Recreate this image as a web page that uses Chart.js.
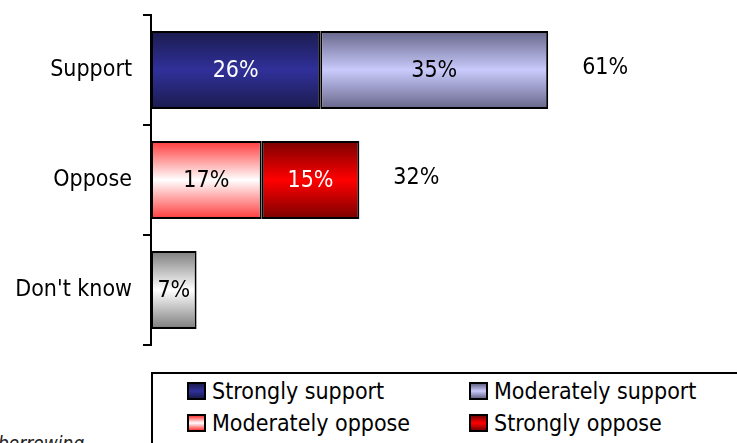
<!DOCTYPE html>
<html>
<head>
<meta charset="utf-8">
<script src="https://cdn.jsdelivr.net/npm/chart.js@4.4.1/dist/chart.umd.min.js"></script>
<style>
  html, body { margin: 0; padding: 0; background: #fff; }
  body { width: 737px; height: 443px; position: relative; overflow: hidden; font-family: 'DejaVu Sans Condensed', 'Liberation Sans', sans-serif; }
  #wrap { position: absolute; left: 0; top: 0; width: 737px; height: 360px; }
  #legend { position: absolute; left: 151px; top: 372px; width: 620px; height: 90px; border: 2px solid #000; box-sizing: border-box; }
  .item { position: absolute; font-size: 23px; color: #000; line-height: 26px; white-space: nowrap; }
  .sw { display: inline-block; width: 15px; height: 14px; border: 2px solid #000; vertical-align: -1px; margin-right: 6px; }
  #note { position: absolute; left: -2px; top: 432px; font-size: 19px; font-style: italic; color: #222; }
</style>
</head>
<body>
<div id="wrap"><canvas id="chart"></canvas></div>
<div id="legend"></div>
<div id="note">borrowing</div>
<script>
const categories = ['Support', 'Oppose', "Don't know"];
const stronglySupport   = [26, null, null];
const moderatelySupport = [35, null, null];
const moderatelyOppose  = [null, 17, null];
const stronglyOppose    = [null, 15, null];
const dontKnow          = [null, null, 7];
const totals            = ['61%', '32%', null];

const FONT = '"DejaVu Sans Condensed", "Liberation Sans", sans-serif';

// [edge, centre] colours of each vertical gradient
const SHADES = {
  ss: ['#1b1b4e', '#30309a'],
  ms: ['#66668a', '#cacafc'],
  mo: ['#ff3a3a', '#ffffff'],
  so: ['#7a0000', '#ff0000'],
  dk: ['#7c7c7c', '#ffffff'],
};

function grad(key) {
  const [edge, mid] = SHADES[key];
  return c => {
    const chart = c.chart;
    const y = chart.scales && chart.scales.y;
    if (!chart.chartArea || !y) return mid;
    const yc = y.getPixelForValue(c.dataIndex);
    const h = 39;
    const g = chart.ctx.createLinearGradient(0, yc - h, 0, yc + h);
    g.addColorStop(0, edge);
    g.addColorStop(0.5, mid);
    g.addColorStop(1, edge);
    return g;
  };
}

const datasets = [
  { label: 'Strongly support',   data: stronglySupport,   key: 'ss', txt: '#fff' },
  { label: 'Moderately support', data: moderatelySupport, key: 'ms', txt: '#000' },
  { label: 'Moderately oppose',  data: moderatelyOppose,  key: 'mo', txt: '#000' },
  { label: 'Strongly oppose',    data: stronglyOppose,    key: 'so', txt: '#fff' },
  { label: "Don't know",         data: dontKnow,          key: 'dk', txt: '#000', noLegend: true },
].map(d => ({
  ...d,
  backgroundColor: grad(d.key),
  borderColor: '#000',
  borderWidth: 2,
  borderSkipped: false,
  categoryPercentage: 1,
  barPercentage: 0.71,
}));

const labelPlugin = {
  id: 'labels',
  afterDatasetsDraw(chart) {
    const ctx = chart.ctx;
    ctx.save();
    ctx.font = '23px ' + FONT;
    ctx.textBaseline = 'middle';
    chart.data.datasets.forEach((ds, i) => {
      chart.getDatasetMeta(i).data.forEach((bar, j) => {
        if (ds.data[j] == null) return;
        ctx.fillStyle = ds.txt;
        ctx.textAlign = 'center';
        ctx.fillText(ds.data[j] + '%', (bar.x + bar.base) / 2, bar.y + 1);
      });
    });
    const x = chart.scales.x, y = chart.scales.y;
    ctx.fillStyle = '#000';
    ctx.textAlign = 'left';
    totals.forEach((t, j) => {
      if (!t) return;
      const sum = chart.data.datasets.reduce((s, ds) => s + (ds.data[j] || 0), 0);
      ctx.fillText(t, x.getPixelForValue(sum) + 34, y.getPixelForValue(j) - 2);
    });
    ctx.restore();
  }
};

new Chart(document.getElementById('chart'), {
  type: 'bar',
  data: { labels: categories, datasets },
  options: {
    indexAxis: 'y',
    responsive: true,
    maintainAspectRatio: false,
    animation: false,
    layout: { padding: { top: 15, right: 0, bottom: 15, left: 0 } },
    plugins: { legend: { display: false }, tooltip: { enabled: false } },
    scales: {
      x: { stacked: true, min: 0, max: 90, display: false },
      y: {
        stacked: true,
        afterFit: s => { s.width = 151; s.paddingTop = 0; s.paddingBottom = 0; },
        border: { display: true, color: '#000', width: 2 },
        grid: { offset: true, drawOnChartArea: false, drawTicks: true, tickLength: 8, color: '#000', lineWidth: 2 },
        ticks: { color: '#000', padding: 11, font: { family: FONT, size: 23 } },
      },
    },
  },
  plugins: [labelPlugin],
});

// legend box below the chart
const legendEl = document.getElementById('legend');
const pos = [[34, 4], [316, 4], [34, 36], [316, 36]];
datasets.filter(d => !d.noLegend).forEach((d, i) => {
  const [edge, mid] = SHADES[d.key];
  const el = document.createElement('div');
  el.className = 'item';
  el.style.left = pos[i][0] + 'px';
  el.style.top = pos[i][1] + 'px';
  el.innerHTML = `<span class="sw" style="background:linear-gradient(${edge},${mid},${edge})"></span>${d.label}`;
  legendEl.appendChild(el);
});
</script>
</body>
</html>
